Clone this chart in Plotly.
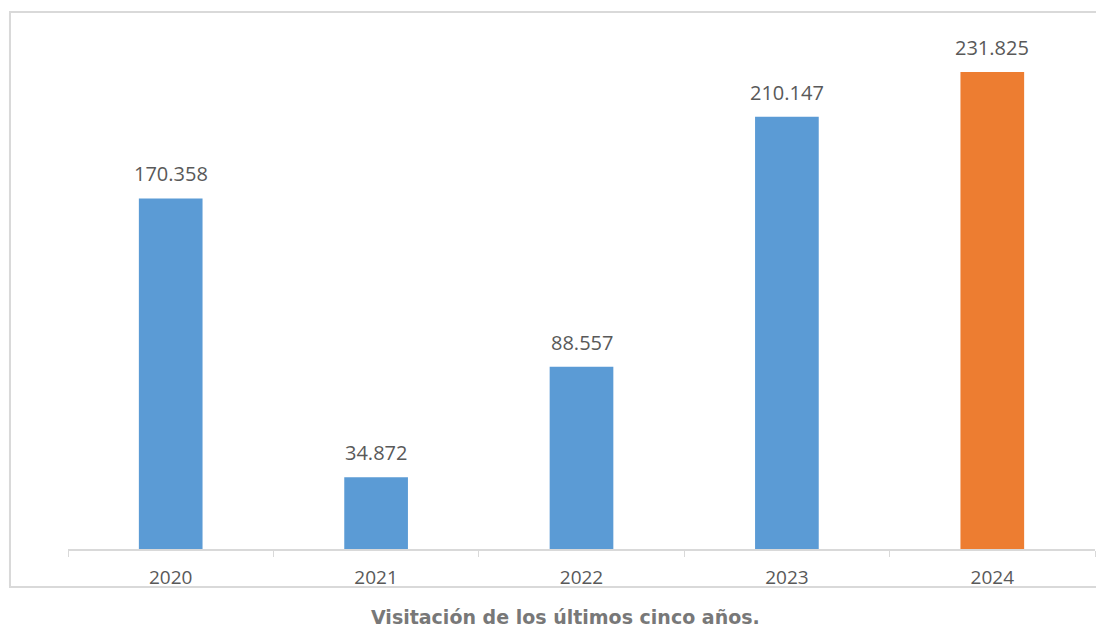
import plotly.graph_objects as go

years = ["2020", "2021", "2022", "2023", "2024"]
visitors = [170358, 34872, 88557, 210147, 231825]
bar_colors = ["#5B9BD5", "#5B9BD5", "#5B9BD5", "#5B9BD5", "#ED7D31"]
caption = "Visitación de los últimos cinco años."

def fmt(v):
    return f"{v:,}".replace(",", ".")

fig = go.Figure(go.Bar(
    x=years, y=visitors, marker_color=bar_colors, marker_line_width=0,
    width=0.31, hoverinfo="skip",
))

for i, v in enumerate(visitors):
    fig.add_annotation(x=i, y=v, text=fmt(v), showarrow=False, yanchor="bottom",
                       yshift=9, font=dict(family="Open Sans", size=20, color="#595959"))

fig.add_annotation(x=0.484, y=-0.126, xref="paper", yref="paper", text=f"<b>{caption}</b>",
                   showarrow=False, xanchor="center", yanchor="middle",
                   font=dict(family="DejaVu Sans", size=19, color="#787878"))

fig.add_shape(type="rect", xref="paper", yref="paper", x0=-0.0565, x1=1.0078, y0=-0.0708, y1=1.0,
              line=dict(color="#d9d9d9", width=2), fillcolor="rgba(0,0,0,0)", layer="below")

fig.update_layout(
    width=1096, height=620,
    margin=dict(l=60, r=9, t=4, b=79, autoexpand=False),
    paper_bgcolor="white", plot_bgcolor="white",
    showlegend=False,
    xaxis=dict(type="category", range=[-0.5, 4.5], showline=True, linecolor="#d9d9d9", linewidth=2,
               ticks="outside", tickson="boundaries", ticklen=6, tickcolor="#d9d9d9", tickwidth=1,
               automargin=False, tickangle=0, ticklabelstandoff=10,
               tickfont=dict(family="Open Sans", size=19, color="#595959"), showgrid=False),
    yaxis=dict(range=[0, 261000], visible=False, showgrid=False, zeroline=False),
)

fig.write_html("out.html")
